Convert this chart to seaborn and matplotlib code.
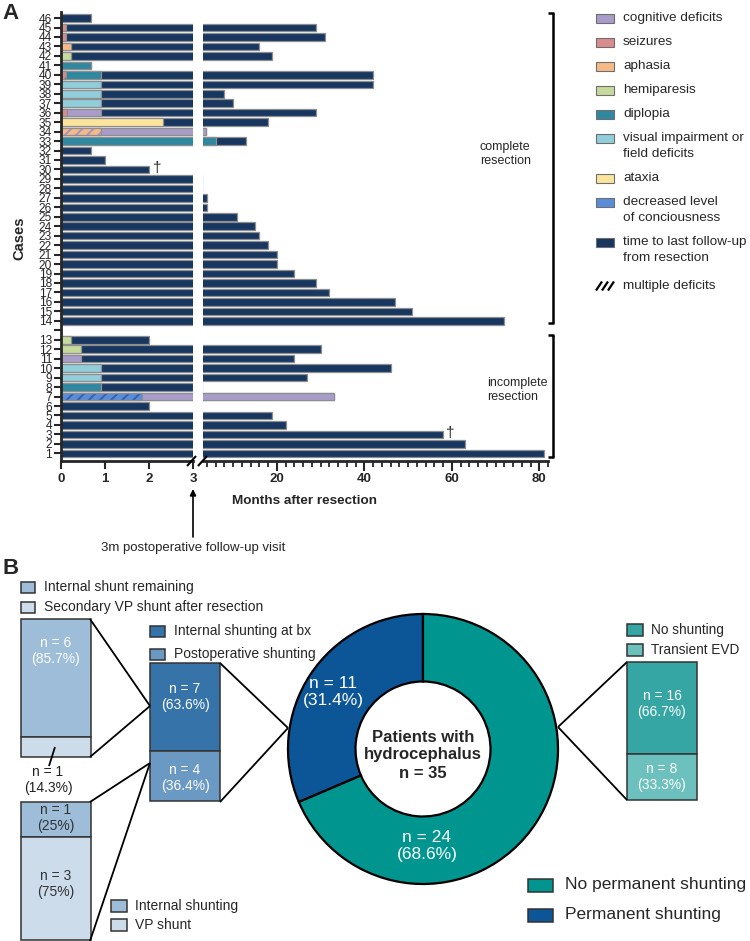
import matplotlib
matplotlib.use("Agg")
import matplotlib.pyplot as plt
import seaborn as sns
import pandas as pd
from matplotlib.patches import Rectangle

sns.set_theme(style="ticks")
plt.rcParams['font.family'] = ['Liberation Sans', 'DejaVu Sans']
plt.rcParams['hatch.linewidth'] = 1.4

# ------------------------------------------------------------------ data A
case_ids = list(range(1, 47))
followup_months = [81, 63, 58, 22, 19, 2.0, 33, 3.0, 27, 46, 24, 30, 2.0,          # 1-13
                   72, 51, 47, 32, 29, 24, 20, 20, 18, 16, 15, 11, 4, 4, 3.0, 3.0,  # 14-29
                   2.0, 1.0, 0.68, 13, 3.9, 18, 29, 10, 8, 42, 42, 0.68, 19, 16,   # 30-43
                   31, 29, 0.68]                                                   # 44-46
deceased_cases = [30, 3]

deficit_case = [45, 44, 43, 42, 41, 40, 40, 39, 38, 37, 36, 36, 35, 34, 34, 33,
                13, 12, 11, 10, 9, 8, 7, 7]
deficit_kind = ['seizures', 'seizures', 'aphasia', 'hemiparesis', 'diplopia',
                'seizures', 'diplopia', 'visual', 'visual', 'visual', 'seizures',
                'cognitive', 'ataxia', 'aphasia', 'cognitive', 'diplopia',
                'hemiparesis', 'hemiparesis', 'cognitive', 'visual', 'visual',
                'diplopia', 'consciousness', 'cognitive']
deficit_end = [0.11, 0.11, 0.22, 0.22, 0.68, 0.11, 0.91, 0.91, 0.91, 0.91, 0.13,
               0.91, 2.31, 0.91, 3.9, 6.0, 0.22, 0.45, 0.45, 0.91, 0.91, 0.91,
               1.85, 33]
deficit_multi = [False, False, False, False, False, True, False, False, False,
                 False, False, False, False, True, False, False, False, False,
                 False, False, False, False, True, False]

legend_kinds = ['cognitive', 'seizures', 'aphasia', 'hemiparesis', 'diplopia',
                'visual', 'ataxia', 'consciousness', 'followup', 'multiple']
legend_texts = ['cognitive deficits', 'seizures', 'aphasia', 'hemiparesis',
                'diplopia', 'visual impairment or\nfield deficits', 'ataxia',
                'decreased level\nof conciousness',
                'time to last follow-up\nfrom resection', 'multiple deficits']

# ------------------------------------------------------------------ data B
donut_values = [11, 24]
donut_labels = ['n = 11\n(31.4%)', 'n = 24\n(68.6%)']
donut_names = ['No permanent shunting', 'Permanent shunting']
mid_values = [7, 4]
mid_labels = ['n = 7\n(63.6%)', 'n = 4\n(36.4%)']
mid_names = ['Internal shunting at bx', 'Postoperative shunting']
upper_values = [6, 1]
upper_labels = ['n = 6\n(85.7%)', 'n = 1\n(14.3%)']
upper_names = ['Internal shunt remaining', 'Secondary VP shunt after resection']
lower_values = [1, 3]
lower_labels = ['n = 1\n(25%)', 'n = 3\n(75%)']
lower_names = ['Internal shunting', 'VP shunt']
right_values = [16, 8]
right_labels = ['n = 16\n(66.7%)', 'n = 8\n(33.3%)']
right_names = ['No shunting', 'Transient EVD']

# ------------------------------------------------------------------ styles
NAVY = '#173660'
EDGE = '#8e8e8e'
COL = {'cognitive': '#A99CC9', 'seizures': '#D98C8E', 'aphasia': '#F6BA88',
       'hemiparesis': '#C6DA9C', 'diplopia': '#2F88A0', 'visual': '#90CEDB',
       'ataxia': '#FCE49C', 'consciousness': '#5A8DD8', 'followup': NAVY,
       'multiple': 'white'}
STRIPE = {40: '#2F88A0', 34: '#A493C4', 7: '#3A5DB0'}

W, H = 750, 941
fig = plt.figure(figsize=(W / 100, H / 100), dpi=100)


def Y(p):
    return H - p


def fax(x0, x1, y0, y1):
    return [x0 / W, (H - y1) / H, (x1 - x0) / W, (y1 - y0) / H]


ax_l = fig.add_axes(fax(61, 193, 12, 460.7))
ax_r = fig.add_axes(fax(202.5, 548, 12, 460.7))

order = [str(c) for c in range(46, 13, -1)] + [''] + [str(c) for c in range(13, 0, -1)]
fu = pd.DataFrame({'case': [str(c) for c in case_ids], 'months': followup_months})

draw_order = sorted(range(len(deficit_case)), key=lambda i: -deficit_end[i])

for ax in (ax_l, ax_r):
    sns.barplot(data=fu, x='months', y='case', order=order, orient='h',
                color=NAVY, width=0.8, edgecolor=EDGE, linewidth=0.9,
                errorbar=None, saturation=1, ax=ax)
    for i in draw_order:
        d = pd.DataFrame({'case': [str(deficit_case[i])], 'months': [deficit_end[i]]})
        kw = dict(data=d, x='months', y='case', order=order, orient='h',
                  width=0.8, errorbar=None, saturation=1, ax=ax)
        if deficit_multi[i]:
            sns.barplot(**kw, color=COL[deficit_kind[i]], hatch='///',
                        edgecolor=STRIPE[deficit_case[i]], linewidth=0)
            sns.barplot(**kw, color=EDGE, fill=False, linewidth=0.9)
        else:
            sns.barplot(**kw, color=COL[deficit_kind[i]], edgecolor=EDGE,
                        linewidth=0.9)
    ax.set_ylim(46.78, -0.64)
    ax.set_xlabel('')
    ax.set_ylabel('')
    ax.spines['top'].set_visible(False)
    ax.spines['right'].set_visible(False)
    ax.spines['bottom'].set_linewidth(2)
    ax.set_facecolor('none')

ax_l.set_xlim(0, 3)
ax_l.set_xticks([0, 1, 2, 3])
ax_l.spines['left'].set_linewidth(2)
ax_l.tick_params(axis='y', length=5, width=1.5, labelsize=8.6, pad=1.5, left=True)
ax_l.tick_params(axis='x', length=6, width=1.5, labelsize=9.5, pad=3, bottom=True)

ax_r.set_xlim(3.02, 82)
ax_r.set_xticks([20, 40, 60, 80])
ax_r.set_xticks([v for v in range(4, 83, 2) if v % 20], minor=True)
ax_r.spines['left'].set_visible(False)
ax_r.tick_params(axis='y', left=False, labelleft=False)
ax_r.tick_params(axis='x', which='major', length=7, width=1.5, labelsize=9.5,
                 pad=2, bottom=True)
ax_r.tick_params(axis='x', which='minor', length=4, width=1.3, bottom=True)
for ax in (ax_l, ax_r):
    for lab in ax.get_xticklabels():
        lab.set_fontweight('bold')

# deceased markers
for c in deceased_cases:
    pos = order.index(str(c))
    val = followup_months[case_ids.index(c)]
    ax = ax_l if val <= 3 else ax_r
    off = 0.08 if ax is ax_l else 0.6
    ax.text(val + off, pos - 0.15, '\u2020', fontsize=11, ha='left', va='center')

# ------------------------------------------------------------------ overlay
ov = fig.add_axes([0, 0, 1, 1])
ov.set_xlim(0, W)
ov.set_ylim(0, H)
ov.axis('off')


def line(x0, y0, x1, y1, lw=1.3, color='black'):
    ov.plot([x0, x1], [Y(y0), Y(y1)], color=color, lw=lw, solid_capstyle='butt')


ov.text(2, Y(13), 'A', fontsize=16, fontweight='bold', va='center', ha='left')
ov.text(19, Y(238), 'Cases', fontsize=10.5, fontweight='bold', rotation=90,
        va='center', ha='center')
ov.text(305, Y(501), 'Months after resection', fontsize=9.7,
        fontweight='bold', ha='center', va='center')
# axis break marks
for x in (187, 198):
    line(x, 466, x + 9, 456, lw=1.5)
ov.annotate('', xy=(193, Y(489)), xytext=(193, Y(537)),
            arrowprops=dict(arrowstyle='-|>', color='black', lw=1.2,
                            mutation_scale=9, shrinkA=0, shrinkB=0))
ov.text(193, Y(548), '3m postoperative follow-up visit', fontsize=9.5,
        ha='center', va='center')

# brackets
for y0, y1 in ((13, 323), (335, 457)):
    line(553, y0, 553, y1, lw=1.8)
    line(548, y0, 553.9, y0, lw=1.8)
    line(548, y1, 553.9, y1, lw=1.8)
ov.text(480, Y(154), 'complete\nresection', fontsize=9, ha='left', va='center',
        linespacing=1.15)
ov.text(487, Y(390), 'incomplete\nresection', fontsize=9, ha='left',
        va='center', linespacing=1.15)

# legend A
leg_y = [18, 42, 66, 90, 114, 138, 178, 202, 242, 286]
for kind, txt, yy in zip(legend_kinds, legend_texts, leg_y):
    if kind == 'multiple':
        # hatched icon: three thick diagonal stripes inside an 18x9 box
        for sx in (596, 602, 608):
            ov.plot([sx, sx + 6], [Y(yy) - 4.5, Y(yy) + 4.5], color='black',
                    lw=1.6, solid_capstyle='butt')
    else:
        ov.add_patch(Rectangle((596, Y(yy) - 4.5), 18, 9, facecolor=COL[kind],
                               edgecolor='#6e6e6e', lw=0.8))
    for k, l in enumerate(txt.split('\n')):
        ov.text(623, Y(yy + 16 * k), l, fontsize=9.7, ha='left', va='center')

# ------------------------------------------------------------------ panel B
ov.text(2, Y(568), 'B', fontsize=16, fontweight='bold', va='center', ha='left')

C_PERM = '#0C5596'
C_NOPERM = '#00968F'
cx, cy, R = 423, 749, 135
ov.pie(donut_values, colors=[C_PERM, C_NOPERM], startangle=90,
       counterclock=True, radius=R, center=(cx, Y(cy)),
       wedgeprops=dict(width=R / 2, edgecolor='black', linewidth=1.6))
ov.set_xlim(0, W)
ov.set_ylim(0, H)
ov.set_aspect('auto')
ov.axis('off')
ov.text(333, Y(692), donut_labels[0], color='white', fontsize=12.5,
        ha='center', va='center')
ov.text(427, Y(846), donut_labels[1], color='white', fontsize=12.5,
        ha='center', va='center')
ov.text(cx, Y(755), 'Patients with\nhydrocephalus\nn = 35', fontsize=12,
        fontweight='bold', ha='center', va='center', linespacing=1.25)


def stacked_box(x0, top, values, colors, labels, label_y, txtcol, fs=10):
    total = sum(values)
    scale = 138 / total
    cur = Y(top)
    for v, c, lab, ly, tc in zip(values, colors, labels, label_y, txtcol):
        h = v * scale
        ov.bar(x0 + 35, h, width=70, bottom=cur - h, color=c,
               edgecolor='#333333', linewidth=1.1)
        if ly is not None:
            ov.text(x0 + 35, Y(ly), lab, color=tc, fontsize=fs, ha='center',
                    va='center')
        cur -= h


C_BX, C_POST = '#3573A8', '#6A99C4'
C_REM, C_VP = '#9DBDD9', '#CCDCEA'
C_NOSH, C_EVD = '#35A6A3', '#6CC1BE'

stacked_box(150, 663, mid_values, [C_BX, C_POST], mid_labels, [697, 778],
            ['white', 'white'])
stacked_box(21, 619, upper_values, [C_REM, C_VP], upper_labels, [651, None],
            ['white', 'white'])
stacked_box(21, 802, lower_values, [C_REM, C_VP], lower_labels, [818, 884],
            ['#333333', '#333333'])
stacked_box(627, 662, right_values, [C_NOSH, C_EVD], right_labels, [704, 777],
            ['white', 'white'])
ov.text(48, Y(780), upper_labels[1], color='#222222', fontsize=10,
        ha='center', va='center')
line(55, 747, 49, 766, lw=1.3)

# connector lines
line(558, 727, 627, 662)
line(558, 727, 627, 800)
line(288, 728, 220, 663)
line(288, 728, 220, 802)
line(150, 706, 90, 619)
line(150, 706, 90, 757)
line(150, 763, 90, 802)
line(150, 763, 90, 941)


def legend_item(x, y, w, h, color, text, tx, fs):
    ov.add_patch(Rectangle((x, Y(y) - h / 2), w, h, facecolor=color,
                           edgecolor='#333333', lw=1.1))
    ov.text(tx, Y(y), text, fontsize=fs, ha='left', va='center')


legend_item(21, 587, 14, 11, C_REM, upper_names[0], 44, 10)
legend_item(21, 607, 14, 11, C_VP, upper_names[1], 44, 10)
legend_item(150, 631, 15, 11, C_BX, mid_names[0], 174, 10)
legend_item(150, 654, 15, 11, C_POST, mid_names[1], 174, 10)
legend_item(111, 906, 16, 12, C_REM, lower_names[0], 135, 10)
legend_item(111, 925, 16, 12, C_VP, lower_names[1], 135, 10)
legend_item(627, 630, 16, 12, C_NOSH, right_names[0], 651, 9.8)
legend_item(627, 650, 16, 12, C_EVD, right_names[1], 651, 9.8)
legend_item(528, 885, 25, 13, C_NOPERM, donut_names[0], 565, 12.5)
legend_item(528, 915, 25, 13, C_PERM, donut_names[1], 565, 12.5)

fig.savefig('out.png', dpi=100)
